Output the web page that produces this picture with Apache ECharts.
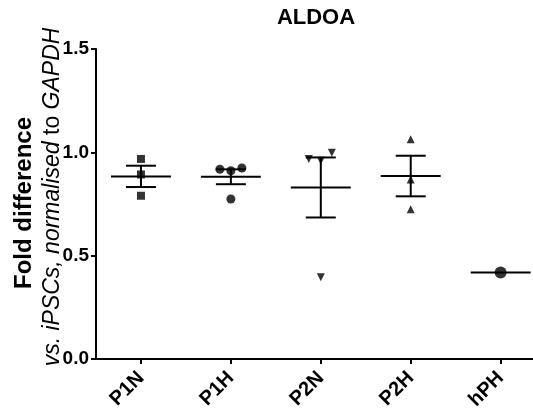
<!DOCTYPE html>
<html>
<head>
<meta charset="utf-8">
<script src="https://cdn.jsdelivr.net/npm/echarts@6/dist/echarts.min.js"></script>
<style>
  html, body { margin: 0; padding: 0; background: #fff; }
  #chart { width: 533px; height: 415px; }
</style>
</head>
<body>
<div id="chart"></div>
<script>
// Groups and per-replicate fold-difference values (vs. iPSCs, normalised to GAPDH)
const categories = ['P1N', 'P1H', 'P2N', 'P2H', 'hPH'];
const valsP1N = [0.968, 0.893, 0.790];
const valsP1H = [0.918, 0.911, 0.924, 0.774];
const valsP2N = [0.968, 0.959, 0.998, 0.395];
const valsP2H = [1.063, 0.869, 0.724];
const valsHPH = [0.419];
const yTicks = [0.0, 0.5, 1.0, 1.5];

const groups = [valsP1N, valsP1H, valsP2N, valsP2H, valsHPH];
const groupIndex = categories.map((c, i) => i);

// Horizontal spread of overlapping replicates (pixels), per group
const spreadPx = [
  [0, 0, 0],
  [-11, 0, 11, 0],
  [-12, 0, 11, 0],
  [0, 0, 0],
  [0]
];
const symbols = [
  { symbol: 'rect', size: 8, rotate: 0 },
  { symbol: 'circle', size: 9, rotate: 0 },
  { symbol: 'triangle', size: 8, rotate: 180 },
  { symbol: 'triangle', size: 8, rotate: 0 },
  { symbol: 'circle', size: 12, rotate: 0 }
];

function mean(a) { return a.reduce((s, v) => s + v, 0) / a.length; }
function sem(a) {
  if (a.length < 2) return 0;
  const m = mean(a);
  const v = a.reduce((s, x) => s + (x - m) * (x - m), 0) / (a.length - 1);
  return Math.sqrt(v / a.length);
}

const FONT = '"Liberation Sans", Arial, Helvetica, sans-serif';
const INK = '#000';

const scatterSeries = groups.map((vals, gi) => ({
  type: 'scatter',
  symbol: symbols[gi].symbol,
  symbolSize: symbols[gi].size,
  symbolRotate: symbols[gi].rotate,
  itemStyle: { color: INK },
  z: 3,
  silent: true,
  data: vals.map((v, i) => ({
    value: [groupIndex[gi], v],
    symbolOffset: [spreadPx[gi][i] || 0, 0]
  }))
}));

const summaryData = groups.map((vals, gi) => [groupIndex[gi], mean(vals), sem(vals)]);

const summarySeries = {
  type: 'custom',
  z: 4,
  silent: true,
  data: summaryData,
  renderItem: function (params, api) {
    const xi = api.value(0), m = api.value(1), s = api.value(2);
    const band = api.size([1, 0])[0];
    const half = band / 3, cap = band / 6;
    const c = api.coord([xi, m]);
    const st = { stroke: INK, lineWidth: 2 };
    const children = [{
      type: 'line',
      shape: { x1: c[0] - half, y1: c[1], x2: c[0] + half, y2: c[1] },
      style: st
    }];
    if (s > 0) {
      const hi = api.coord([xi, m + s]);
      const lo = api.coord([xi, m - s]);
      children.push(
        { type: 'line', shape: { x1: c[0], y1: hi[1], x2: c[0], y2: lo[1] }, style: st },
        { type: 'line', shape: { x1: c[0] - cap, y1: hi[1], x2: c[0] + cap, y2: hi[1] }, style: st },
        { type: 'line', shape: { x1: c[0] - cap, y1: lo[1], x2: c[0] + cap, y2: lo[1] }, style: st }
      );
    }
    return { type: 'group', children: children };
  }
};

const chart = echarts.init(document.getElementById('chart'), null, { renderer: 'canvas' });

chart.setOption({
  animation: false,
  backgroundColor: '#fff',
  grid: { left: 96, top: 49, right: 0, height: 310 },
  xAxis: {
    type: 'value',
    // groups sit one unit apart; the axis runs on past the last group to the edge
    min: -0.5,
    max: 4.36,
    axisLine: { show: true, onZero: false, lineStyle: { color: INK, width: 2 } },
    axisTick: { show: true, customValues: groupIndex, length: 5, lineStyle: { color: INK, width: 2 } },
    axisLabel: {
      customValues: groupIndex,
      formatter: v => categories[Math.round(v)] || '',
      rotate: 45, margin: 16, color: INK,
      fontFamily: FONT, fontWeight: 'bold', fontSize: 20
    },
    splitLine: { show: false }
  },
  yAxis: {
    type: 'value',
    min: yTicks[0],
    max: yTicks[yTicks.length - 1],
    interval: 0.5,
    axisLine: { show: true, onZero: false, lineStyle: { color: INK, width: 2 } },
    axisTick: { show: true, length: 5, lineStyle: { color: INK, width: 2 } },
    axisLabel: {
      margin: 7, color: INK, fontFamily: FONT, fontWeight: 'bold', fontSize: 19,
      formatter: v => v.toFixed(1)
    },
    splitLine: { show: false }
  },
  graphic: [
    {
      type: 'text', x: 316, y: 18,
      style: {
        text: 'ALDOA', fill: INK, font: 'bold 22px ' + FONT,
        textAlign: 'center', textVerticalAlign: 'middle'
      }
    },
    {
      type: 'text', x: 24, y: 203, rotation: Math.PI / 2,
      style: {
        text: 'Fold difference', fill: INK, font: 'bold 24px ' + FONT,
        textAlign: 'center', textVerticalAlign: 'middle'
      }
    },
    {
      type: 'text', x: 53, y: 197, rotation: Math.PI / 2,
      style: {
        text: '{i|vs. iPSCs, normalised }{n|to}{i| GAPDH}',
        textAlign: 'center', textVerticalAlign: 'middle',
        rich: {
          i: { fontFamily: FONT, fontSize: 23, fontStyle: 'italic', fill: INK, color: INK },
          n: { fontFamily: FONT, fontSize: 23, fill: INK, color: INK }
        }
      }
    }
  ],
  series: scatterSeries.concat([summarySeries])
});
</script>
</body>
</html>
